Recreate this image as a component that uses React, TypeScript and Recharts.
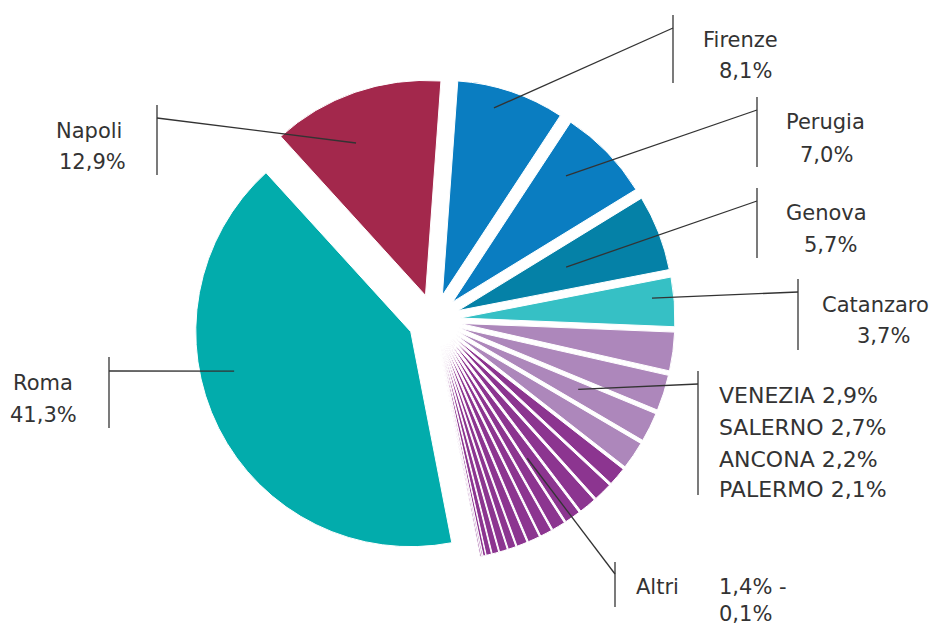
import React from "react";
import { PieChart, Pie, Cell, Sector } from "recharts";

// quote per sede, in ordine orario partendo da Roma
const cities = ["Roma", "Napoli", "Firenze", "Perugia", "Genova", "Catanzaro", "VENEZIA", "SALERNO", "ANCONA", "PALERMO"];
const cityShares = [41.3, 12.9, 8.1, 7.0, 5.7, 3.7, 2.9, 2.7, 2.2, 2.1];
// "Altri": dal 1,4% allo 0,1%
const otherShares = [1.4, 1.4, 1.3, 1.2, 1.0, 0.9, 0.9, 0.8, 0.6, 0.6, 0.5, 0.4, 0.2, 0.1, 0.1];
const groupedCities = ["VENEZIA", "SALERNO", "ANCONA", "PALERMO"];

const data = [
  ...cities.map((name, i) => ({ name, value: cityShares[i] })),
  ...otherShares.map((value, i) => ({ name: `Altri ${i + 1}`, value })),
];

const COLORS: Record<string, string> = {
  Roma: "#02acac",
  Napoli: "#a3284c",
  Firenze: "#0a7dc1",
  Perugia: "#0a7dc1",
  Genova: "#0581a7",
  Catanzaro: "#36c0c5",
  VENEZIA: "#ad87bb",
  SALERNO: "#ad87bb",
  ANCONA: "#ad87bb",
  PALERMO: "#ad87bb",
};
const OTHER_COLOR = "#8c3590";

const EXPLODE = 26;
const RAD = Math.PI / 180;
const FONT = "'DejaVu Sans', Verdana, sans-serif";
const INK = "#333";

const pct = (v: number) => v.toFixed(1).replace(".", ",") + "%";

// posizione dei richiami (raggio/angolo del punto d'attacco, barra verticale, righe di testo)
type Callout = { r: number; da: number; barX: number; barY: [number, number]; elbowY: number; lines: [number, number][] };
const CALLOUTS: Record<string, Callout> = {
  Roma: { r: 181, da: -14.1, barX: 109, barY: [357, 428], elbowY: 371, lines: [[13, 390], [10, 422]] },
  Napoli: { r: 167.5, da: 5.4, barX: 157, barY: [105, 175], elbowY: 118, lines: [[56, 138], [59, 169]] },
  Firenze: { r: 194.4, da: 3.3, barX: 673, barY: [15, 83], elbowY: 28, lines: [[703, 47], [719, 78]] },
  Perugia: { r: 169.4, da: 3.9, barX: 757, barY: [97, 167], elbowY: 110, lines: [[786, 129], [800, 162]] },
  Genova: { r: 116.3, da: 0.7, barX: 757, barY: [188, 258], elbowY: 201, lines: [[786, 220], [804, 252]] },
  Catanzaro: { r: 193.1, da: 1.6, barX: 798, barY: [279, 350], elbowY: 292, lines: [[822, 312], [857, 343]] },
  ANCONA: { r: 134, da: 0.9, barX: 698, barY: [371, 495], elbowY: 384, lines: [[719, 403], [719, 435], [719, 467], [719, 497]] },
  "Altri 4": { r: 140.8, da: -1.3, barX: 615, barY: [562, 607], elbowY: 574, lines: [[636, 594], [719, 594], [719, 621]] },
};

function ExplodedSector(props: any) {
  const { cx, cy, midAngle } = props;
  return (
    <Sector
      {...props}
      cx={cx + EXPLODE * Math.cos(-midAngle * RAD)}
      cy={cy + EXPLODE * Math.sin(-midAngle * RAD)}
    />
  );
}

function renderLabel(props: any) {
  const { cx, cy, midAngle, name, value } = props;
  const c = CALLOUTS[name];
  if (!c) return null;
  const ox = cx + EXPLODE * Math.cos(-midAngle * RAD);
  const oy = cy + EXPLODE * Math.sin(-midAngle * RAD);
  const a = (midAngle + c.da) * RAD;
  const px = ox + c.r * Math.cos(-a);
  const py = oy + c.r * Math.sin(-a);

  const isGroup = name === "ANCONA";
  let texts: string[];
  if (isGroup) {
    texts = groupedCities.map((n) => `${n} ${pct(cityShares[cities.indexOf(n)])}`);
  } else if (name.startsWith("Altri")) {
    texts = ["Altri", `${pct(Math.max(...otherShares))} -`, pct(Math.min(...otherShares))];
  } else {
    texts = [name, pct(value)];
  }

  return (
    <g>
      <line x1={px} y1={py} x2={c.barX} y2={c.elbowY} stroke={INK} strokeWidth={1.3} />
      <line x1={c.barX} y1={c.barY[0]} x2={c.barX} y2={c.barY[1]} stroke={INK} strokeWidth={1.3} />
      {texts.map((t, i) => (
        <text
          key={i}
          x={c.lines[i][0]}
          y={c.lines[i][1]}
          fill={INK}
          fontSize={isGroup ? 22 : 21}
          fontFamily={FONT}
        >
          {t}
        </text>
      ))}
    </g>
  );
}

export default function App() {
  return (
    <div style={{ position: "absolute", left: 0, top: 0, background: "#fff" }}>
      <PieChart width={932} height={626} margin={{ top: 0, right: 0, bottom: 0, left: 0 }}>
        <Pie
          data={data}
          dataKey="value"
          nameKey="name"
          cx={434}
          cy={320}
          outerRadius={215}
          startAngle={-79}
          endAngle={-439}
          stroke="#fff"
          strokeWidth={1}
          shape={ExplodedSector}
          label={renderLabel}
          labelLine={false}
          isAnimationActive={false}
        >
          {data.map((d) => (
            <Cell key={d.name} fill={COLORS[d.name] ?? OTHER_COLOR} />
          ))}
        </Pie>
      </PieChart>
    </div>
  );
}
